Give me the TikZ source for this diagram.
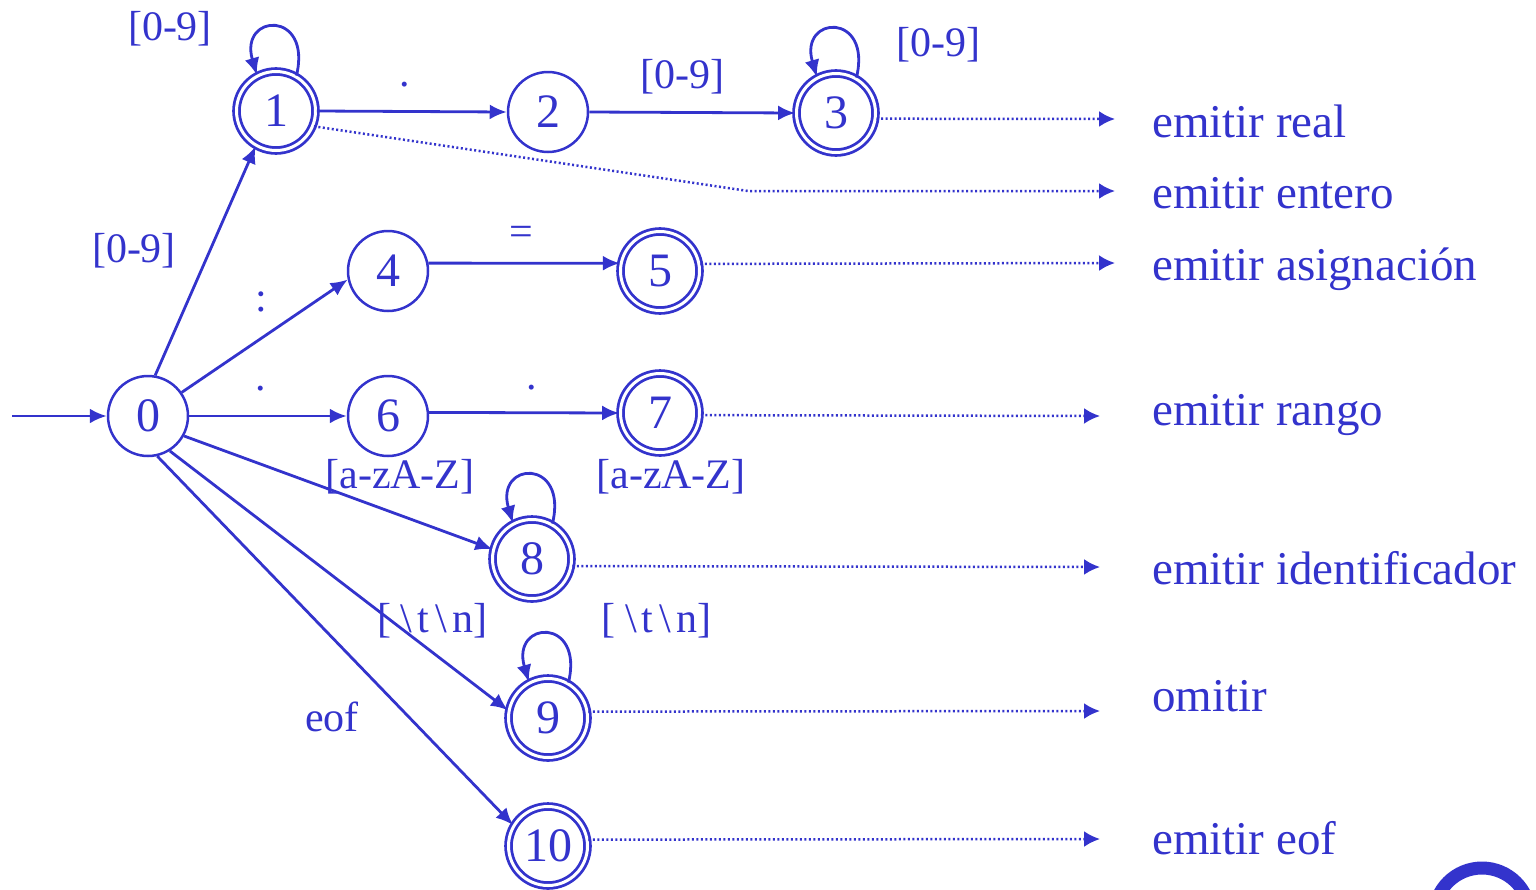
\documentclass[tikz,border=0pt]{standalone}
\usepackage{fontspec}
\setmainfont{Liberation Serif}
\usetikzlibrary{arrows.meta}
\definecolor{ink}{RGB}{51,51,204}
\newcommand{\bsl}{\hspace{6pt}\textbackslash\hspace{5pt}}
\begin{document}
\begin{tikzpicture}[x=1pt,y=-1pt,
  st/.style={circle,draw=ink,line width=2.5pt,minimum size=80pt,inner sep=0pt,text=ink,font=\fontsize{48}{56}\selectfont},
  acc/.style={st,double=white,double distance=3pt,line width=2.8pt,minimum size=79pt},
  edge/.style={draw=ink,line width=2.8pt,-{Latex[length=17pt,width=15pt]}},
  outl/.style={draw=ink,line width=2.5pt,dash pattern=on 2pt off 2.5pt,-{Latex[length=16pt,width=16pt]}},
  lab/.style={text=ink,font=\fontsize{42}{50}\selectfont,inner sep=0pt},
  res/.style={text=ink,font=\fontsize{47}{55}\selectfont,inner sep=0pt,anchor=base west}]
\useasboundingbox (0,0) rectangle (1536,889);
\clip (0,0) rectangle (1536,889);

% states
\node[st]  (n0)  at (148,416) {0};
\node[acc] (n1)  at (276,111) {1};
\node[st]  (n2)  at (548,112) {2};
\node[acc] (n3)  at (836,113) {3};
\node[st]  (n4)  at (388,271) {4};
\node[acc] (n5)  at (660,271) {5};
\node[st]  (n6)  at (388,416) {6};
\node[acc] (n7)  at (660,413) {7};
\node[acc] (n8)  at (532,559) {8};
\node[acc] (n9)  at (548,718) {9};
\node[acc] (n10) at (548,846) {10};

% free ends
\coordinate (s0) at (12,416);
\coordinate (k1) at (748,191);
\coordinate (e1) at (1115,119);
\coordinate (e2) at (1115,191);
\coordinate (e3) at (1115,263);
\coordinate (e4) at (1100,416);
\coordinate (e5) at (1100,567);
\coordinate (e6) at (1100,711);
\coordinate (e7) at (1100,839);

% transitions
\draw[edge] (s0) -- (n0);
\draw[edge] (n0.80) -- (n1.-120);
\draw[edge] (n0.35) -- (n4.192);
\draw[edge] (n0) -- (n6);
\draw[edge] (n0.-29) -- (n8.166);
\draw[edge] (n0.-58) -- (n9.169);
\draw[edge] (n0.-77) -- (n10.149);
\draw[edge] (n1.east) -- (n2.west);
\draw[edge] (n2.east) -- (n3.west);
\draw[edge] (n4.11) -- (n5.169);
\draw[edge] (n6.5) -- (n7.west);

% self loops
\draw[edge] (n1.60) .. controls +(16,-66) and +(-18,-62) .. (n1.118);
\draw[edge] (n3.60) .. controls +(16,-66) and +(-18,-62) .. (n3.118);
\draw[edge] (n8.60) .. controls +(16,-66) and +(-18,-62) .. (n8.118);
\draw[edge] (n9.60) .. controls +(16,-66) and +(-18,-62) .. (n9.118);

% outputs
\draw[outl] (n3.-8) -- (e1);
\draw[outl] (n1.-22) -- (k1) -- (e2);
\draw[outl] (n5.10) -- (e3);
\draw[outl] (n7.-3) -- (e4);
\draw[outl] (n8.-10) -- (e5);
\draw[outl] (n9.9) -- (e6);
\draw[outl] (n10.9) -- (e7);

% labels
\node[lab] (l1)  at (170,29)  {[0-9]};
\node[lab] (l2)  at (405,85)  {.};
\node[lab] (l3)  at (682,77)  {[0-9]};
\node[lab] (l4)  at (938,45)  {[0-9]};
\node[lab] (l5)  at (134,251) {[0-9]};
\node[lab] (l6)  at (261,302) {:};
\node[lab] (l7)  at (521,236) {=};
\node[lab] (l8)  at (261,389) {.};
\node[lab] (l9)  at (532,388) {.};
\node[lab] (l10) at (400,477) {[a-zA-Z]};
\node[lab] (l11) at (671,477) {[a-zA-Z]};
\node[lab] (l12) at (432,621) {[\hspace{4pt}\bsl t\bsl n]};
\node[lab] (l13) at (656,621) {[\hspace{4pt}\bsl t\bsl n]};
\node[lab] (l14) at (332,717) {eof};

% results
\node[res] (r1) at (1152,137) {emitir real};
\node[res] (r2) at (1152,208) {emitir entero};
\node[res] (r3) at (1152,280) {emitir asignación};
\node[res] (r4) at (1152,425) {emitir rango};
\node[res] (r5) at (1152,584) {emitir identificador};
\node[res] (r6) at (1152,711) {omitir};
\node[res] (r7) at (1152,854) {emitir eof};

% corner logo fragment
\draw[ink,line width=13pt] (1482,916) circle[radius=48];
\end{tikzpicture}
\end{document}
